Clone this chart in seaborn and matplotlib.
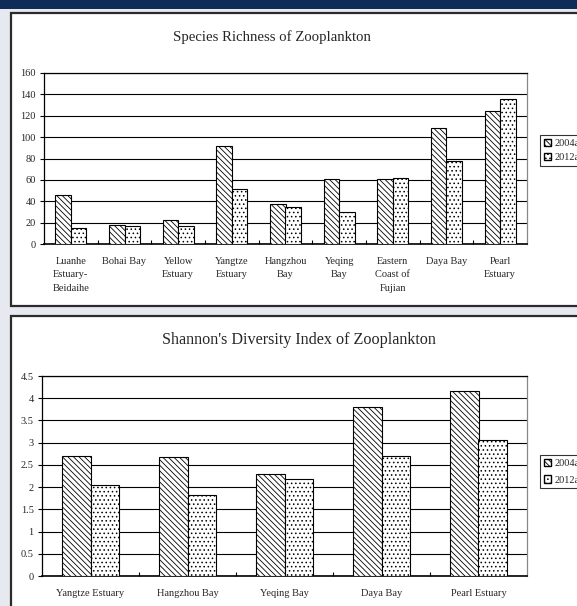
import matplotlib
matplotlib.use("Agg")
import matplotlib.pyplot as plt
import seaborn as sns
import pandas as pd
from matplotlib.patches import Rectangle, Patch

sns.set_theme(style="white")
plt.rcParams['font.family'] = ['Liberation Serif', 'DejaVu Serif']
plt.rcParams['hatch.linewidth'] = 0.6

years = ["2004a", "2012a"]
rich_sites = ["Luanhe Estuary-Beidaihe", "Bohai Bay", "Yellow Estuary", "Yangtze Estuary",
              "Hangzhou Bay", "Yeqing Bay", "Eastern Coast of Fujian", "Daya Bay", "Pearl Estuary"]
rich_labels = ["Luanhe\nEstuary-\nBeidaihe", "Bohai Bay", "Yellow\nEstuary", "Yangtze\nEstuary",
               "Hangzhou\nBay", "Yeqing\nBay", "Eastern\nCoast of\nFujian", "Daya Bay", "Pearl\nEstuary"]
rich_2004 = [46, 18, 22, 92, 37, 61, 61, 109, 124]
rich_2012 = [15, 17, 17, 51, 35, 30, 62, 78, 136]
rich_ticks = [0, 20, 40, 60, 80, 100, 120, 140, 160]

div_sites = ["Yangtze Estuary", "Hangzhou Bay", "Yeqing Bay", "Daya Bay", "Pearl Estuary"]
div_labels = div_sites
div_2004 = [2.71, 2.67, 2.29, 3.81, 4.17]
div_2012 = [2.04, 1.82, 2.18, 2.69, 3.06]
div_ticks = [0, 0.5, 1, 1.5, 2, 2.5, 3, 3.5, 4, 4.5]
div_ticklabels = ["0", "0.5", "1", "1.5", "2", "2.5", "3", "3.5", "4", "4.5"]

titles = ["Species Richness of Zooplankton", "Shannon's Diversity Index of Zooplankton"]
HATCHES = ["\\\\\\\\\\\\", "...."]

W, H = 577, 606
fig = plt.figure(figsize=(W / 100, H / 100), dpi=100)
fig.patch.set_facecolor("#e6e9ef")


def fr(x0, y0, x1, y1):
    return [x0 / W, 1 - y1 / H, (x1 - x0) / W, (y1 - y0) / H]


# background decorations
fig.patches.append(Rectangle((0, 1 - 9 / H), 1, 9 / H, transform=fig.transFigure,
                             facecolor="#0f2b57", edgecolor="none", zorder=-2))
for (y0, y1) in [(13, 306), (316, 640)]:
    x0, x1 = 11, 640
    fig.patches.append(Rectangle((x0 / W, 1 - y1 / H), (x1 - x0) / W, (y1 - y0) / H,
                                 transform=fig.transFigure, facecolor="white",
                                 edgecolor="#2b2b2b", linewidth=1.6, zorder=-2))


def draw(ax, sites, labels, v04, v12, ticks, ticklabels, ymax):
    n = len(sites)
    df = pd.DataFrame({"site": sites * 2,
                       "year": [years[0]] * n + [years[1]] * n,
                       "value": v04 + v12})
    sns.barplot(data=df, x="site", y="value", hue="year", order=sites,
                palette=["white", "white"], edgecolor="black", linewidth=0.8,
                width=0.58, gap=0, ax=ax, legend=False, saturation=1, zorder=3)
    for i, p in enumerate(ax.patches):
        p.set_hatch(HATCHES[0] if i < n else HATCHES[1])
        p.set_facecolor("white")
        p.set_edgecolor("black")
    ax.set_ylim(0, ymax)
    ax.set_xlim(-0.5, n - 0.5)
    ax.set_yticks(ticks)
    ax.set_yticklabels(ticklabels)
    ax.set_xticks(range(n))
    ax.set_xticklabels(labels, linespacing=1.7)
    ax.set_xticks([i + 0.5 for i in range(n - 1)], minor=True)
    ax.tick_params(axis="x", which="major", length=0, pad=9, labelsize=7.5)
    ax.tick_params(axis="x", which="minor", length=3, direction="in", width=0.8, color="black", bottom=True)
    ax.tick_params(axis="y", length=3, direction="out", width=0.8, color="black", left=True, pad=3, labelsize=7.5)
    ax.yaxis.grid(True, color="black", linewidth=0.8, zorder=0)
    ax.set_axisbelow(True)
    ax.set_xlabel("")
    ax.set_ylabel("")
    ax.set_facecolor("white")
    for s in ["left", "bottom", "top"]:
        ax.spines[s].set_color("black")
        ax.spines[s].set_linewidth(0.9)
    ax.spines["bottom"].set_linewidth(1.2)
    ax.spines["right"].set_color("#888888")
    ax.spines["right"].set_linewidth(0.9)


ax1 = fig.add_axes(fr(44, 73, 527, 244), zorder=2)
draw(ax1, rich_sites, rich_labels, rich_2004, rich_2012, rich_ticks,
     [str(t) for t in rich_ticks], 160)
ax2 = fig.add_axes(fr(42, 376, 527, 576), zorder=2)
draw(ax2, div_sites, div_labels, div_2004, div_2012, div_ticks, div_ticklabels, 4.5)

fig.text(271.5 / W, 1 - 37 / H, titles[0], ha="center", va="center", fontsize=10.6, zorder=3)
fig.text(299 / W, 1 - 340 / H, titles[1], ha="center", va="center", fontsize=11.6, zorder=3)

handles = [Patch(facecolor="white", edgecolor="black", hatch=HATCHES[0], label=years[0]),
           Patch(facecolor="white", edgecolor="black", hatch=HATCHES[1], label=years[1])]
for ytop, lsp in [(135, 0.45), (455, 0.7)]:
    leg = fig.legend(handles=handles, loc="upper left",
                     bbox_to_anchor=(540 / W, 1 - ytop / H), fontsize=7.5,
                     frameon=True, fancybox=False, edgecolor="black",
                     borderpad=0.35, handlelength=0.75, handleheight=0.75,
                     handletextpad=0.3, labelspacing=lsp, borderaxespad=0)
    leg.get_frame().set_linewidth(0.8)
    leg.set_zorder(3)

fig.savefig("out.png", dpi=100)
